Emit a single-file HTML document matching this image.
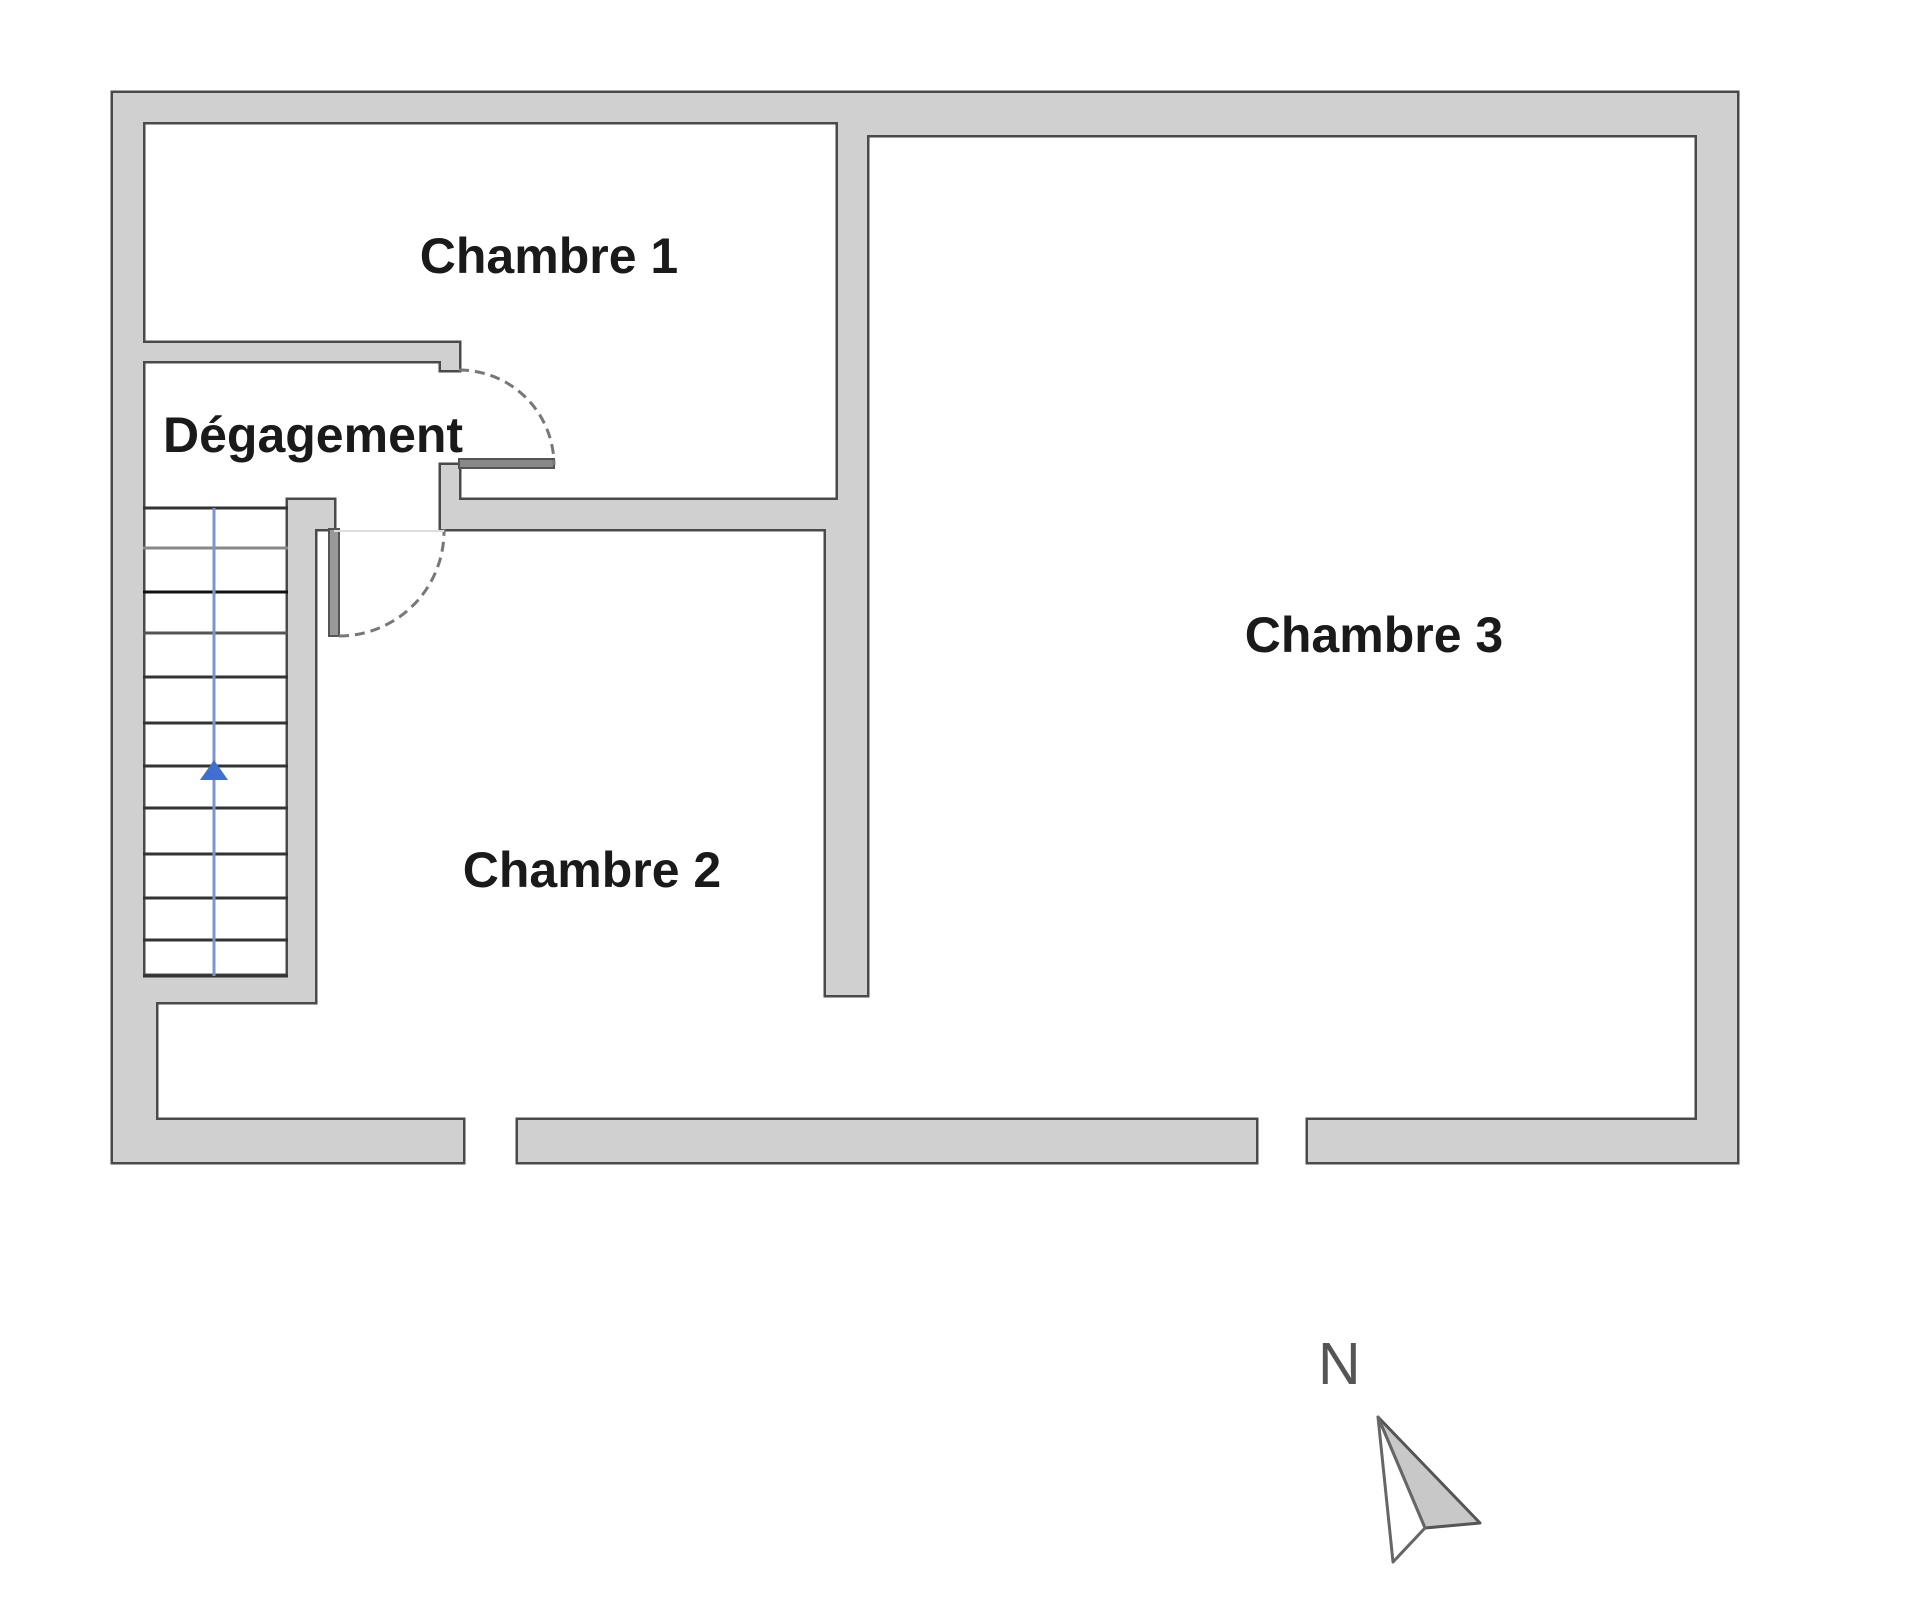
<!DOCTYPE html>
<html><head><meta charset="utf-8"><style>
html,body{margin:0;padding:0;background:#fff;width:1920px;height:1609px;overflow:hidden}
svg{display:block}
text{font-family:"Liberation Sans",sans-serif}
</style></head><body>
<svg width="1920" height="1609" viewBox="0 0 1920 1609" xmlns="http://www.w3.org/2000/svg">
<g id="walls" stroke="#4a4a4a" stroke-width="5" fill="#d0d0d0">
<rect x="113" y="93" width="1624" height="29"/>
<rect x="838" y="93" width="899" height="42"/>
<rect x="113" y="93" width="30" height="1069"/>
<rect x="113" y="1002" width="43" height="160"/>
<rect x="1697" y="93" width="40" height="1069"/>
<rect x="113" y="1120" width="350" height="42"/>
<rect x="518" y="1120" width="738" height="42"/>
<rect x="1308" y="1120" width="429" height="42"/>
<rect x="838" y="93" width="29" height="436"/>
<rect x="826" y="500" width="41" height="495"/>
<rect x="441" y="500" width="397" height="29"/>
<rect x="441" y="465" width="18" height="64"/>
<rect x="143" y="343" width="316" height="18"/>
<rect x="441" y="343" width="18" height="27"/>
<rect x="288" y="500" width="27" height="502"/>
<rect x="288" y="500" width="46" height="29"/>
<rect x="143" y="976" width="172" height="26"/>
</g>
<g fill="#d0d0d0">
<rect x="113" y="93" width="1624" height="29"/>
<rect x="838" y="93" width="899" height="42"/>
<rect x="113" y="93" width="30" height="1069"/>
<rect x="113" y="1002" width="43" height="160"/>
<rect x="1697" y="93" width="40" height="1069"/>
<rect x="113" y="1120" width="350" height="42"/>
<rect x="518" y="1120" width="738" height="42"/>
<rect x="1308" y="1120" width="429" height="42"/>
<rect x="838" y="93" width="29" height="436"/>
<rect x="826" y="500" width="41" height="495"/>
<rect x="441" y="500" width="397" height="29"/>
<rect x="441" y="465" width="18" height="64"/>
<rect x="143" y="343" width="316" height="18"/>
<rect x="441" y="343" width="18" height="27"/>
<rect x="288" y="500" width="27" height="502"/>
<rect x="288" y="500" width="46" height="29"/>
<rect x="143" y="976" width="172" height="26"/>
</g>
<!-- door leaves -->
<rect x="459" y="459" width="95" height="9" fill="#888" stroke="#555" stroke-width="2"/>
<rect x="329" y="529" width="10" height="107" fill="#999" stroke="#555" stroke-width="2"/>
<path d="M459 370 A95 95 0 0 1 554 465" fill="none" stroke="#777" stroke-width="3" stroke-dasharray="10 6"/>
<path d="M339 636 A105 105 0 0 0 444 529" fill="none" stroke="#777" stroke-width="3" stroke-dasharray="10 6"/>
<line x1="334" y1="531" x2="444" y2="531" stroke="#ddd" stroke-width="2"/>
<!-- stairs -->
<g stroke="#333" stroke-width="3">
<line x1="143" y1="508" x2="288" y2="508"/>
<line x1="143" y1="548" x2="288" y2="548" stroke="#888"/>
<line x1="143" y1="592" x2="288" y2="592" stroke="#111"/>
<line x1="143" y1="633" x2="288" y2="633" stroke="#555"/>
<line x1="143" y1="677" x2="288" y2="677"/>
<line x1="143" y1="723" x2="288" y2="723"/>
<line x1="143" y1="766" x2="288" y2="766"/>
<line x1="143" y1="808" x2="288" y2="808"/>
<line x1="143" y1="854" x2="288" y2="854"/>
<line x1="143" y1="898" x2="288" y2="898"/>
<line x1="143" y1="940" x2="288" y2="940"/>
<line x1="143" y1="976" x2="288" y2="976"/>
</g>
<line x1="214" y1="508" x2="214" y2="976" stroke="#7d95cc" stroke-width="3"/>
<polygon points="214,760 200,780 228,780" fill="#3f6fd0"/>
<!-- labels -->
<g font-weight="bold" font-size="50" fill="#1a1a1a">
<text x="549" y="273" text-anchor="middle">Chambre 1</text>
<text x="163" y="452">Dégagement</text>
<text x="592" y="887" text-anchor="middle">Chambre 2</text>
<text x="1374" y="652" text-anchor="middle">Chambre 3</text>
</g>
<text x="1318" y="1384" font-size="59" fill="#555">N</text>
<polygon points="1378,1417 1480,1523 1425,1528" fill="#c8c8c8" stroke="#555" stroke-width="3" stroke-linejoin="round"/>
<polygon points="1378,1417 1425,1528 1393,1562" fill="#fff" stroke="#666" stroke-width="3" stroke-linejoin="round"/>
</svg>
</body></html>
